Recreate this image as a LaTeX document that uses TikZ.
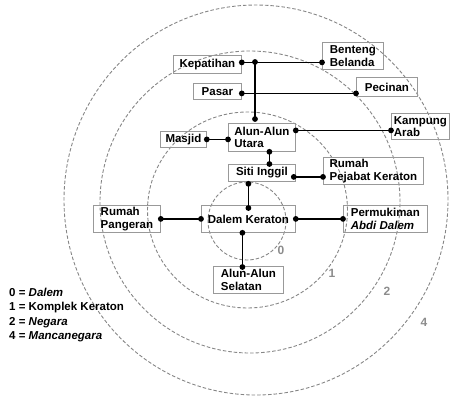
\documentclass[tikz,border=0pt]{standalone}
\usepackage{fontspec}
\setmainfont{Liberation Sans}
\usetikzlibrary{positioning, decorations.markings}

\tikzset{
  box/.style={draw=gray!80, line width=0.8pt, anchor=north west, inner sep=1.5pt,
    align=left, font=\fontsize{11.5}{12.5}\selectfont\bfseries},
  ring/.style={draw=gray!95, dashed, dash pattern=on 3.5pt off 2pt, line width=0.9pt},
  link/.style={line width=1.5pt, postaction={decorate},
    decoration={markings,
      mark=at position 0 with {\fill (0,0) circle (2.9pt);},
      mark=at position 1 with {\fill (0,0) circle (2.9pt);}}},
  zone/.style={text=gray!90, font=\fontsize{12}{12}\selectfont\bfseries, inner sep=0pt},
}

\begin{document}
\begin{tikzpicture}[x=1pt, y=-1pt]
  \useasboundingbox (0,0) rectangle (450,397);

  % Zones
  \draw[ring] (247,221) circle [radius=39pt];
  \draw[ring] (247.5,210) circle [x radius=100pt, y radius=98pt];
  \draw[ring] (250,202) circle [x radius=150pt, y radius=151pt];
  \draw[ring] (256,200) circle [x radius=192pt, y radius=195pt];

  \node[zone] (z0) at (281,250) {0};
  \node[zone] (z1) at (332,273) {1};
  \node[zone] (z2) at (387,291) {2};
  \node[zone] (z4) at (424,322) {4};

  % Places
  \node[box, minimum width=61pt, minimum height=27pt] (bent) at (322,42) {Benteng\\Belanda};
  \node[box, minimum width=68pt, minimum height=18pt] (kep) at (173,55) {Kepatihan};
  \node[box, minimum width=48pt, minimum height=16pt] (pasar) at (193,83) {Pasar};
  \node[box, minimum width=61pt, minimum height=19pt] (pec) at (356,77) {Pecinan};
  \node[box, minimum width=58pt, minimum height=26pt] (kamp) at (391,113) {Kampung\\Arab};
  \node[box, minimum width=67pt, minimum height=28pt] (utara) at (228,123) {Alun-Alun\\Utara};
  \node[box, minimum width=46pt, minimum height=16pt] (masjid) at (160,131) {Masjid};
  \node[box, minimum width=67pt, minimum height=17pt] (siti) at (228,164) {Siti Inggil};
  \node[box, minimum width=100pt, minimum height=27pt] (pejabat) at (323,157) {Rumah\\Pejabat Keraton};
  \node[box, minimum width=94pt, minimum height=27pt] (dalem) at (201,205) {Dalem Keraton};
  \node[box, minimum width=67pt, minimum height=27pt] (pangeran) at (93,205) {Rumah\\Pangeran};
  \node[box, minimum width=84pt, minimum height=27pt] (abdi) at (343,205) {Permukiman\\\textit{Abdi Dalem}};
  \node[box, minimum width=70pt, minimum height=27pt] (selatan) at (213,266) {Alun-Alun\\Selatan};

  % Links
  \coordinate (jk) at (255,62);
  \draw[link] ([yshift=2pt]kep.east) -- ([yshift=2pt]kep.east -| bent.west);
  \draw[link] (jk) -- ([yshift=4pt]jk |- utara.north);
  \draw[link] ([yshift=-2pt]pasar.east) -- ([yshift=-2pt]pasar.east -| pec.west);
  \draw[link] ([yshift=7pt]utara.east) -- ([yshift=7pt]utara.east -| kamp.west);
  \draw[link] (masjid.east) -- (masjid.east -| utara.west);
  \draw[link] ([xshift=7.5pt]utara.south) -- ([xshift=7.5pt]utara.south |- siti.north);
  \draw[link] ([xshift=-2pt,yshift=-4pt]siti.east) -- ([yshift=-4pt]siti.east -| pejabat.west);
  \draw[link] ([yshift=-2pt]dalem.north |- siti.south) -- ([yshift=-3pt]dalem.north);
  \draw[link] (pangeran.east) -- (dalem.west);
  \draw[link] (dalem.east) -- (abdi.west);
  \draw[link] ([xshift=-6pt]dalem.south) -- ([xshift=-6pt,yshift=-1pt]dalem.south |- selatan.north);

  % Legend
  \node[anchor=west, align=left, inner sep=0pt, font=\fontsize{11.5}{14.5}\selectfont\bfseries] (legend) at (9,315)
    {0 = \textit{Dalem}\\1 = Komplek Keraton\\2 = \textit{Negara}\\4 = \textit{Mancanegara}};
\end{tikzpicture}
\end{document}
